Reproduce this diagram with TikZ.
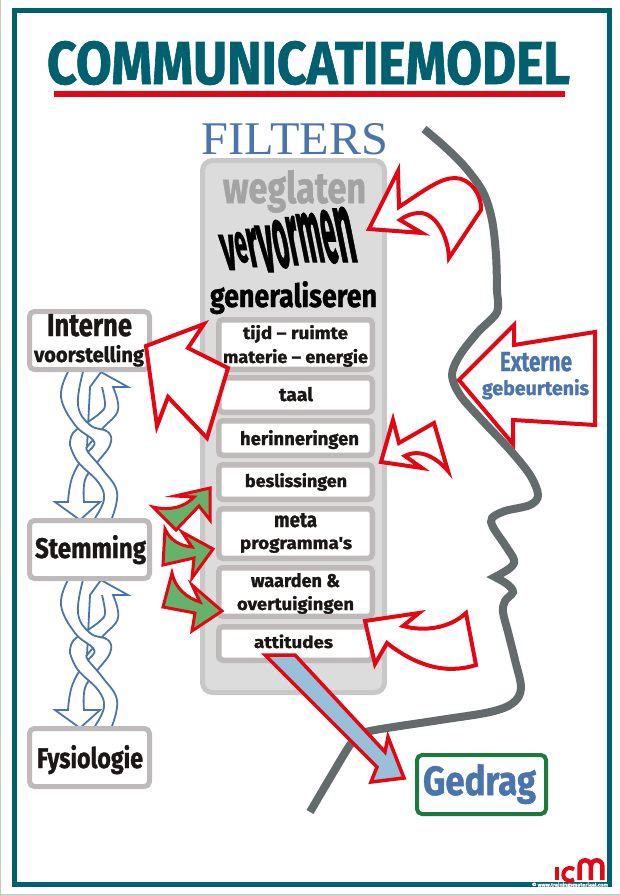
\documentclass[tikz,border=0pt]{standalone}
\usepackage{graphicx}
\usepackage{fontspec}
\setmainfont{Fira Sans}
\newfontfamily\heavy[FakeBold=1.2]{Fira Sans Bold}
\newfontfamily\serifhead{Liberation Serif}
\definecolor{teal}{HTML}{00606F}
\definecolor{redline}{HTML}{E30613}
\definecolor{inkblk}{HTML}{1A1715}
\definecolor{headblue}{HTML}{4A74AC}
\definecolor{facegrey}{HTML}{636B6D}
\definecolor{boxgrey}{HTML}{BEBAB9}
\definecolor{panelfill}{HTML}{DCDCDC}
\definecolor{panelline}{HTML}{C8C8C8}
\definecolor{greenfill}{HTML}{66B26B}
\definecolor{bluefill}{HTML}{9ABFD9}
\definecolor{gedraggreen}{HTML}{1E7A3C}
\newcommand\fitto[3]{\resizebox{#1pt}{#2pt}{#3}}
\newcommand\warpl[4]{\raisebox{#4pt}{\resizebox{#1pt}{#2pt}{#3}}}
\tikzset{
  lab/.style={inner sep=0pt,outer sep=0pt,anchor=base,font=\heavy,text=inkblk},
  bluelab/.style={lab,text=headblue},
  filterbox/.style={draw=boxgrey,line width=5.5pt,fill=white,rounded corners=4pt,minimum width=153.5pt,inner sep=0pt},
  sidebox/.style={draw=boxgrey,line width=5pt,fill=white,rounded corners=5pt,minimum width=120pt,minimum height=58pt,inner sep=0pt},
  redarrow/.style={draw=redline,line width=4pt,fill=white,line join=miter,miter limit=8},
  greenarrow/.style={redarrow,line width=3pt,fill=greenfill},
  bluearrow/.style={redarrow,line width=3.5pt,fill=bluefill},
  strand/.style={draw=headblue,line width=1.8pt,line join=miter},
  braid/.pic={
    % upper piece of the rising band
    \path[fill=white] plot[smooth,tension=.7] coordinates {(102,387)(105,405)(100,413)(88,422)(73,433)(70,445)}
      -- plot[smooth,tension=.7] coordinates {(87,447)(103,428)(118,410)(113,387)} -- (128,387) -- (101,372) -- (90,387) -- cycle;
    \draw[strand] plot[smooth,tension=.7] coordinates {(102,387)(105,405)(100,413)(88,422)(73,433)(70,445)};
    \draw[strand] plot[smooth,tension=.7] coordinates {(87,447)(103,428)(118,410)(113,387)} -- (128,387) -- (101,372) -- (90,387) -- cycle;
    % falling band
    \path[fill=white] plot[smooth,tension=.7] coordinates {(68,372)(61,397)(75,425)(93,440)(92,448)(84,456)(72,478)(68,502)}
      -- (55,502) -- (80,520) -- (100,502) -- plot[smooth,tension=.7] coordinates {(84,502)(85,480)(96,464)(110,445)(108,432)(90,425)(78,405)(83,372)} -- cycle;
    \draw[strand] plot[smooth,tension=.7] coordinates {(68,372)(61,397)(75,425)(93,440)(92,448)(84,456)(72,478)(68,502)}
      -- (55,502) -- (80,520) -- (100,502) -- plot[smooth,tension=.7] coordinates {(84,502)(85,480)(96,464)(110,445)(108,432)(90,425)(78,405)(83,372)};
    % lower piece of the rising band
    \path[fill=white] plot[smooth,tension=.7] coordinates {(70,445)(78,462)(98,482)(104,499)(95,518)}
      -- plot[smooth,tension=.7] coordinates {(112,518)(117,492)(103,470)(88,452)(87,447)} -- cycle;
    \draw[strand] plot[smooth,tension=.7] coordinates {(70,445)(78,462)(98,482)(104,499)(95,518)};
    \draw[strand] plot[smooth,tension=.7] coordinates {(112,518)(117,492)(103,470)(88,452)(87,447)};
  }
}
\begin{document}
\begin{tikzpicture}[x=1pt,y=-1pt]
\useasboundingbox (0,0) rectangle (620,895);
\fill[white] (0,0) rectangle (620,895);
% poster edge
\draw[panelline,line width=1pt] (0.5,0) -- (0.5,894) -- (620,894);
% frame
\draw[teal,line width=5pt] (14.5,10) rectangle (609.5,884.5);
\node[inner sep=0pt,anchor=base,text=white,font=\heavy] (copy) at (570,886.5) {\fitto{76}{4}{© www.trainingsmateriaal.com}};
% title
\node[lab,text=teal] (title) at (308.5,84) {\fitto{523}{43}{COMMUNICATIEMODEL}};
\fill[redline] (54,91) rectangle (565,97);
\node[inner sep=0pt,anchor=base,text=headblue,font=\serifhead] (filters) at (295,154) {\fitto{186}{31}{FILTERS}};
% panel
\node[draw=panelline,fill=panelfill,line width=5pt,rounded corners=10pt,minimum width=182pt,minimum height=532pt,inner sep=0pt] (panel) at (293.5,426.5) {};
\node[lab,text=black!36] (weg) at (294.5,203) {\fitto{143}{33}{weglaten}};
\node[lab,text=black,shift={(291.5,262)},xslant=-.2,transform shape] (verv) {\warpl{14.3}{35}{v}{-8}\warpl{12.3}{30}{e}{0}\warpl{11.2}{39}{r}{-5}\warpl{15.3}{46}{v}{-10}\warpl{15.3}{47}{o}{-5}\warpl{11.2}{49}{r}{-3}\warpl{23.5}{49}{m}{0}\warpl{14.3}{52}{e}{0}\warpl{18.5}{55}{n}{0}};
\node[lab,text=black] (gen) at (293.5,307) {\fitto{167}{26}{generaliseren}};
% filter boxes
\node[filterbox,minimum height=49.5pt] (b1) at (295.5,344.5) {};
\node[filterbox,minimum height=34.5pt] (b2) at (295.5,395) {};
\node[filterbox,minimum height=34.5pt] (b3) at (295.5,438) {};
\node[filterbox,minimum height=34.5pt] (b4) at (295.5,482) {};
\node[filterbox,minimum height=49.5pt] (b5) at (295.5,533.5) {};
\node[filterbox,minimum height=48.5pt] (b6) at (295.5,592) {};
\node[filterbox,minimum height=33.5pt] (b7) at (295.5,643.5) {};
\node[lab] (t1a) at (295.5,339) {\fitto{105}{14}{tijd – ruimte}};
\node[lab] (t1b) at (295.5,363) {\fitto{145}{14}{materie – energie}};
\node[lab] (t2) at (296,401) {\fitto{34}{14}{taal}};
\node[lab] (t3) at (299.5,445) {\fitto{119}{15}{herinneringen}};
\node[lab] (t4) at (296,487) {\fitto{102}{14}{beslissingen}};
\node[lab] (t5a) at (295.5,527) {\fitto{43}{14}{meta}};
\node[lab] (t5b) at (296,549) {\fitto{112}{12}{programma's}};
\node[lab] (t6a) at (295.5,587) {\fitto{89}{14}{waarden \&}};
\node[lab] (t6b) at (295.5,610) {\fitto{117}{14}{overtuigingen}};
\node[lab] (t7) at (293.5,648) {\fitto{79}{13.5}{attitudes}};
% braids
\pic (br1) at (0,0) {braid};
\pic (br2) at (0,208) {braid};
% side boxes
\node[sidebox] (interne) at (89.5,340.5) {};
\node[sidebox] (stemming) at (89.5,549.5) {};
\node[sidebox] (fysio) at (89.5,757.5) {};
\node[lab] (int1) at (89.5,336) {\fitto{85}{22}{Interne}};
\node[lab] (int2) at (89,362) {\fitto{110}{17}{voorstelling}};
\node[lab] (stm) at (90.5,558) {\fitto{111}{23}{Stemming}};
\node[lab] (fys) at (90,768) {\fitto{106}{23}{Fysiologie}};
% face
\draw[facegrey,line width=8pt,line join=miter]
  plot[smooth,tension=.55] coordinates {(424,129)(445,147)(465,167)(483,192)(492,220)(496,255)(497,290)(497,312)(478,332)(460,355)(452,375)(460,395)(480,418)(510,450)(530,475)(538,495)(530,505)(505,511)(492,518)(493,527)(505,545)(514,560)(510,568)(495,577)}
  -- plot[smooth,tension=.55] coordinates {(495,577)(507,584)(513,592)(505,601)(503,612)(508,632)(515,660)(521,688)(513,703)(490,712)(440,720)(375,730)(360,735)(350,745)(330,778)(310,812)};
% Gedrag
\node[draw=gedraggreen,line width=4pt,fill=white,rounded corners=5pt,minimum width=129pt,minimum height=59pt,inner sep=0pt] (gedragbox) at (481.5,784.5) {};
\node[bluelab] (gedrag) at (479.5,795) {\fitto{113}{31}{Gedrag}};
% blue arrow
\draw[bluearrow] (265,655) -- (295,655) -- (385,752) -- (388,737) -- (404,778) -- (371,782) -- (377,767) -- cycle;
% red arrows
\draw[redarrow] (369,229) -- (398,171) -- (399,207) .. controls (425,190) and (440,178) .. (455,178) .. controls (470,178) and (482,195) .. (481,210) -- (449,258) .. controls (448,235) and (435,213) .. (420,213) .. controls (412,213) and (405,216) .. (400,220) -- (422,233) -- cycle;
\draw[redarrow] (146,346) -- (204,324) -- (188,348) -- (228,368) -- (207,438) -- (168,397) -- (157,426) -- cycle;
\draw[redarrow] (459,380) -- (514,325) -- (514,345) -- (595,332) -- (595,425) -- (513,420) -- (513,444) -- cycle;
\draw[redarrow] (381,462) -- (393,420) -- (399,443) -- (434,423) -- (448,471) .. controls (437,458) and (420,448) .. (405,456) -- (422,468) -- cycle;
\draw[redarrow] (365,621) -- (419,613) -- (403,626) .. controls (425,632) and (450,628) .. (466,613) -- (476,665) .. controls (445,675) and (415,665) .. (387,643) -- (375,664) -- cycle;
% green arrows
\draw[greenarrow] (210,488) -- (210,520) -- (199,506) -- (176,530) -- (153,507) .. controls (170,511) and (185,507) .. (194,497) -- (175,496) -- cycle;
\draw[greenarrow] (213,549) -- (192,578) -- (194,558) -- (163,565) -- (165,529) .. controls (170,540) and (180,546) .. (192,547) -- (182,532) -- cycle;
\draw[greenarrow] (222,611) -- (192,631) -- (195,613) -- (163,607) -- (172,573) .. controls (175,588) and (187,598) .. (200,602) -- (192,585) -- cycle;
% Externe text
\node[bluelab] (ext1) at (536,371) {\fitto{72}{19}{Externe}};
\node[bluelab] (ext2) at (535.5,395) {\fitto{107}{16}{gebeurtenis}};
% logo
\draw[redline,line width=4pt] (557,867) -- (557,880);
\draw[redline,line width=4pt] (574,869.5) arc[start angle=-50,end angle=-310,radius=6.5];
\draw[redline,line width=4.5pt] (579.5,880) -- (579.5,866) arc[start angle=180,end angle=360,radius=5.7] -- (591,880);
\draw[redline,line width=4.5pt] (591,866) arc[start angle=180,end angle=360,radius=5.7] -- (602.4,880);
\end{tikzpicture}
\end{document}
